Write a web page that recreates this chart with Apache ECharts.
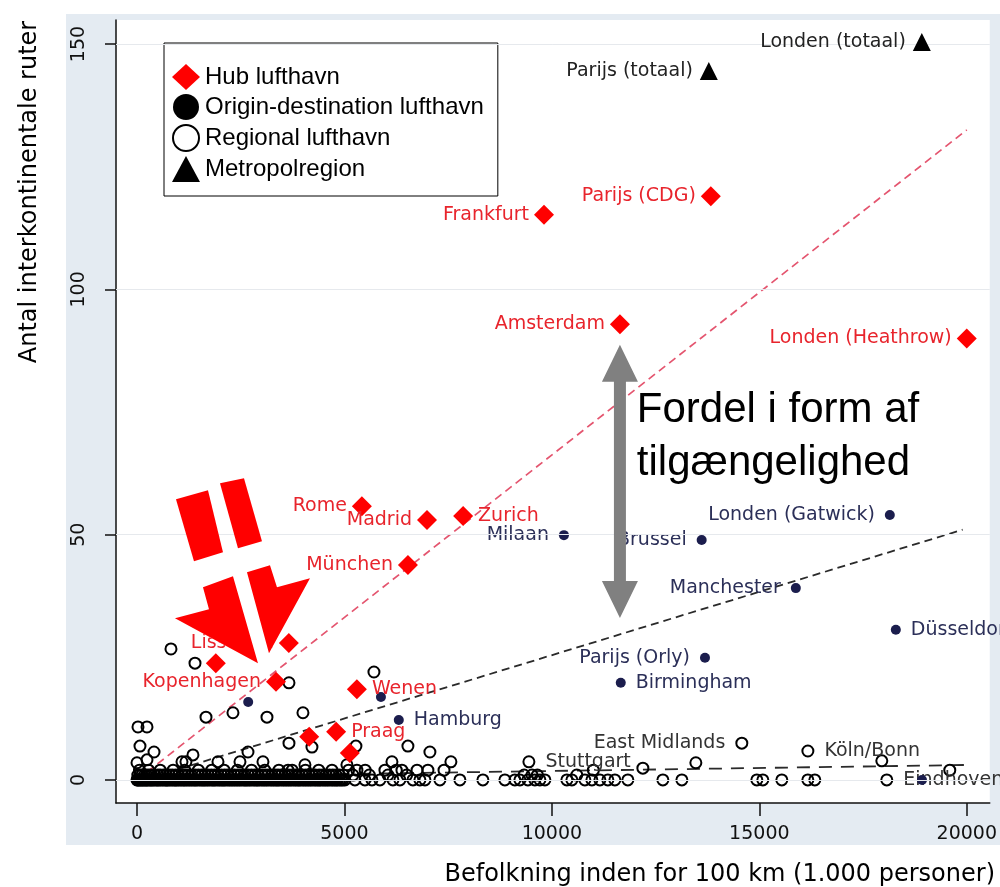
<!DOCTYPE html>
<html><head><meta charset="utf-8">
<script src="https://cdn.jsdelivr.net/npm/echarts@6/dist/echarts.min.js"></script>
<style>html,body{margin:0;padding:0;background:#fff}#c{width:1000px;height:887px}</style>
</head><body><div id="c"></div>
<script>
// ---------------- data ----------------
const xTicks = [0, 5000, 10000, 15000, 20000];
const yTicks = [0, 50, 100, 150];

const hubNames = ['Londen (Heathrow)','Parijs (CDG)','Frankfurt','Amsterdam','Rome','Madrid','Zurich','München','Lissabon','Kopenhagen','Wenen','Praag','','',''];
const hubX = [20000, 13830, 9810, 11640, 5420, 6990, 7860, 6530, 3660, 3350, 5300, 4800, 1900, 4150, 5130];
const hubY = [90, 119, 115.2, 92.9, 55.8, 53.0, 53.8, 43.8, 27.9, 20.0, 18.5, 9.8, 23.8, 8.8, 5.5];

const odNames = ['Londen (Gatwick)','Milaan','Brussel','Manchester','Düsseldorf','Parijs (Orly)','Birmingham','Hamburg','','',''];
const odX = [18145, 10290, 13610, 15880, 18290, 13690, 11660, 6310, 5880, 2680, 18920];
const odY = [54.0, 49.9, 48.9, 39.1, 30.6, 24.9, 19.8, 12.2, 16.9, 15.9, 0];

const regNames = ['Stuttgart','East Midlands','Köln/Bonn','Eindhoven'];
const regX = [9446, 14578, 16170, 18072,
  819, 1398, 3663, 1663, 2313, 3133, 4000, 5711, 24, 241, 72, 410, 1349, 1084, 1180, 1952, 2482, 2675, 3036, 3663, 4217, 4048, 5277, 5060, 5301, 6530, 7060, 6145, 6386, 7012, 7566, 12193, 13470, 17952, 19590, 3640, 5976, 0, 241,
  0, 40, 95, 150, 210, 260, 330, 390, 470, 530, 610, 690, 740, 820, 900, 960, 1040, 1120, 1190, 1270, 1350, 1420, 1510, 1590, 1660, 1740, 1830, 1900, 1990, 2070, 2140, 2230, 2310, 2390, 2470, 2560, 2630, 2710, 2800, 2880, 2950, 3040, 3120, 3210, 3290, 3370, 3440, 3530, 3610, 3690, 3780, 3860, 3930, 4020, 4100, 4180, 4270, 4350, 4420, 4510, 4590, 4680, 4760, 4830, 4920, 5010,
  15, 70, 125, 180, 235, 300, 360, 430, 500, 570, 650, 715, 780, 860, 930, 1000, 1080, 1150, 1230, 1310, 1390, 1460, 1550, 1620, 1700, 1790, 1860, 1950, 2030, 2100, 2190, 2270, 2350, 2430, 2510, 2600, 2670, 2750, 2840, 2910, 3000, 3080, 3160, 3250, 3330, 3400, 3490, 3570, 3650, 3730, 3820, 3900, 3980, 4060, 4140, 4220, 4310, 4390, 4470, 4550, 4630, 4720, 4800, 4880, 4960,
  5253, 5494, 5663, 5855, 6169, 6337, 6651, 6819, 6940, 7301, 7783, 8337, 8867, 9108, 9229, 9422, 9590, 9711, 9831, 10361, 10482, 10795, 10964, 11157, 11349, 11518, 11831, 12675, 13133, 14940, 15084, 15542, 16169, 16337,
  20, 120, 230, 350, 500, 640, 780, 930, 1090, 1230, 1400, 1560, 1710, 1870, 2030, 2180, 2350, 2500, 2680, 2840, 3010, 3160, 3330, 3480, 3650, 3820, 3990, 4150, 4300, 4470, 4640, 4800, 4970, 5205, 5600, 6050, 6500, 9330, 9520, 9650, 10600,
  70, 180, 290, 420, 560, 700, 850, 1000, 1160, 1310, 1480, 1640, 1790, 1950, 2110, 2270, 2430, 2590, 2760, 2920, 3090, 3250, 3400, 3570, 3730, 3900, 4070, 4230, 4390, 4550, 4720, 4880,
  60, 280, 560, 870, 1150, 1480, 1800, 2100, 2420, 2760, 3080, 3420, 3740, 4060, 4380, 4700, 5100, 5500, 6250, 6750, 7400, 11000];
const regY = [3.7, 7.5, 5.9, 0,
  26.7, 23.8, 19.8, 12.8, 13.7, 12.8, 13.7, 22.0, 10.8, 10.8, 6.9, 5.7, 5.1, 3.7, 3.7, 3.7, 3.7, 5.7, 3.7, 7.5, 6.7, 3.1, 6.9, 3.1, 2.0, 6.9, 5.7, 3.7, 2.0, 2.0, 3.7, 2.4, 3.5, 3.9, 2.0, 2.0, 2.0, 3.5, 4.1,
  0,0,0,0,0,0,0,0,0,0,0,0,0,0,0,0,0,0,0,0,0,0,0,0,0,0,0,0,0,0,0,0,0,0,0,0,0,0,0,0,0,0,0,0,0,0,0,0,0,0,0,0,0,0,0,0,0,0,0,0,0,0,0,0,0,0,
  0,0,0,0,0,0,0,0,0,0,0,0,0,0,0,0,0,0,0,0,0,0,0,0,0,0,0,0,0,0,0,0,0,0,0,0,0,0,0,0,0,0,0,0,0,0,0,0,0,0,0,0,0,0,0,0,0,0,0,0,0,0,0,0,0,
  0,0,0,0,0,0,0,0,0,0,0,0,0,0,0,0,0,0,0,0,0,0,0,0,0,0,0,0,0,0,0,0,0,0,
  1,1,1,1,1,1,1,1,1,1,1,1,1,1,1,1,1,1,1,1,1,1,1,1,1,1,1,1,1,1,1,1,1,1,1,1,1,1,1,1,1,
  1,1,1,1,1,1,1,1,1,1,1,1,1,1,1,1,1,1,1,1,1,1,1,1,1,1,1,1,1,1,1,1,
  2,2,2,2,2,2,2,2,2,2,2,2,2,2,2,2,2,2,2,2,2,2];

const metroNames = ['Londen (totaal)','Parijs (totaal)'];
const metroX = [18916, 13783];
const metroY = [150.4, 144.5];

const fitHubX = [0, 20000], fitHubY = [0, 132.5];
const fitOdX = [1000, 19900], fitOdY = [2.2, 51];
const fitRegX = [0, 20000], fitRegY = [0.6, 3.05];

// annotation anchors (data coordinates)
const grayArrowX = 11640, grayArrowTop = 88.7, grayArrowBottom = 33.0;
const noteAnchor = [12048, 69.9];
const redArrowTip = [2916, 23.8];

// ---------------- chart ----------------
const chart = echarts.init(document.getElementById('c'), null, {renderer: 'canvas'});
const LBL = 'DejaVu Sans';
const rightSide = ['Zurich','Wenen','Praag','Düsseldorf','Birmingham','Hamburg','Stuttgart','Köln/Bonn','Eindhoven'];
function pts(names, xs, ys) {
  return xs.map((x, i) => {
    const n = names[i] || '';
    return {name: n, value: [x, ys[i]], label: {position: rightSide.includes(n) ? 'right' : 'left'}};
  });
}
function line(xs, ys) { return xs.map((x, i) => [x, ys[i]]); }
const plain = v => String(v);

const option = {
  animation: false,
  backgroundColor: '#fff',
  grid: {left: 116, right: 10, top: 20, bottom: 84, show: true, backgroundColor: '#fff', borderWidth: 0},
  xAxis: {
    type: 'value', min: -506, max: 20554,
    axisLine: {show: true, onZero: false, lineStyle: {color: '#111', width: 1.5}},
    axisTick: {show: true, length: 13, customValues: xTicks, lineStyle: {color: '#111', width: 1.5}},
    axisLabel: {customValues: xTicks, formatter: plain, margin: 22, fontFamily: LBL, fontSize: 19, color: '#111'},
    splitLine: {show: false}
  },
  yAxis: {
    type: 'value', min: -4.7, max: 154.9,
    axisLine: {show: true, onZero: false, lineStyle: {color: '#111', width: 1.5}},
    axisTick: {show: true, length: 11, customValues: yTicks, lineStyle: {color: '#111', width: 1.5}},
    axisLabel: {customValues: yTicks, formatter: plain, rotate: 90, margin: 27, fontFamily: LBL, fontSize: 19, color: '#111'},
    splitLine: {show: false}
  },
  legend: {
    left: 164, top: 43, orient: 'vertical', selectedMode: false,
    backgroundColor: '#fff', borderColor: '#000', borderWidth: 1,
    padding: [21, 14, 14, 8], itemGap: 4, itemWidth: 28, itemHeight: 26,
    textStyle: {fontFamily: 'Liberation Sans', fontSize: 24, color: '#000'},
    data: [
      {name: 'Hub lufthavn'},
      {name: 'Origin-destination lufthavn', itemStyle: {color: '#000'}},
      {name: 'Regional lufthavn', itemStyle: {borderWidth: 2}},
      {name: 'Metropolregion'}
    ]
  },
  series: [
    {type: 'line', name: 'fitHub', data: line(fitHubX, fitHubY), symbol: 'none', silent: true, z: 2,
     lineStyle: {color: '#e4556f', width: 1.7, type: [8, 5]}},
    {type: 'line', name: 'fitOd', data: line(fitOdX, fitOdY), symbol: 'none', silent: true, z: 2,
     lineStyle: {color: '#2a2a2a', width: 1.8, type: [8, 5]}},
    {type: 'line', name: 'fitReg', data: line(fitRegX, fitRegY), symbol: 'none', silent: true, z: 2,
     lineStyle: {color: '#2a2a2a', width: 1.8, type: [13, 9]},
     markLine: {silent: true, symbol: ['none', 'none'], label: {show: false},
       lineStyle: {color: '#e6e9ed', type: 'solid', width: 1},
       data: yTicks.map(v => ({yAxis: v}))}},
    {type: 'scatter', name: 'Regional lufthavn', data: pts(regNames, regX, regY), symbol: 'circle', symbolSize: 11, z: 3,
     itemStyle: {color: 'rgba(255,255,255,0)', borderColor: '#000', borderWidth: 2, opacity: 1},
     label: {show: true, formatter: '{b}', distance: 10, color: '#333', fontFamily: LBL, fontSize: 19}},
    {type: 'scatter', name: 'Origin-destination lufthavn', data: pts(odNames, odX, odY), symbol: 'circle', symbolSize: 10, z: 4,
     itemStyle: {color: '#1b1d4d', opacity: 1},
     label: {show: true, formatter: '{b}', distance: 10, color: '#2b2f58', fontFamily: LBL, fontSize: 19}},
    {type: 'scatter', name: 'Hub lufthavn', data: pts(hubNames, hubX, hubY), symbol: 'diamond', symbolSize: 20, z: 5,
     itemStyle: {color: '#ff0000', opacity: 1},
     label: {show: true, formatter: '{b}', distance: 5, color: '#e8242c', fontFamily: LBL, fontSize: 19}},
    {type: 'scatter', name: 'Metropolregion', data: pts(metroNames, metroX, metroY), symbol: 'triangle', symbolSize: 18, z: 5,
     itemStyle: {color: '#000', opacity: 1},
     label: {show: true, formatter: '{b}', distance: 7, color: '#222', fontFamily: LBL, fontSize: 19}}
  ]
};
chart.setOption(option);

const P = (x, y) => chart.convertToPixel({gridIndex: 0}, [x, y]);
const gTop = P(grayArrowX, grayArrowTop), gBot = P(grayArrowX, grayArrowBottom);
const cx = gTop[0], sw = 6, hw = 18, hl = 37;
const grayPts = [[cx, gTop[1]], [cx + hw, gTop[1] + hl], [cx + sw, gTop[1] + hl], [cx + sw, gBot[1] - hl], [cx + hw, gBot[1] - hl],
  [cx, gBot[1]], [cx - hw, gBot[1] - hl], [cx - sw, gBot[1] - hl], [cx - sw, gTop[1] + hl], [cx - hw, gTop[1] + hl]];
const note = P(noteAnchor[0], noteAnchor[1]);
const tip = P(redArrowTip[0], redArrowTip[1]);
const off = arr => arr.map(p => [tip[0] + p[0], tip[1] + p[1]]);
const whiteHull = [[-55, -76], [12, -98], [19, -76], [52, -85], [0, 0], [-83, -45], [-49, -54]];
const redShapes = [
  [[-82, -164], [-50, -173], [-35, -111], [-64, -102]],
  [[-38, -180], [-14, -185], [4, -122], [-20, -115]],
  [[-55, -76], [-25, -87], [0, 0], [-83, -45], [-49, -54]],
  [[-11, -91], [12, -98], [19, -76], [52, -85], [11, -10]]
];

chart.setOption({
  graphic: [
    {type: 'rect', z: -10, silent: true, shape: {x: 66, y: 14, width: 934, height: 831}, style: {fill: '#e4ebf2'}},
    {type: 'text', z: 10, silent: true, x: 995, y: 875,
     style: {text: 'Befolkning inden for 100 km (1.000 personer)', fontFamily: 'DejaVu Sans', fontSize: 24, fill: '#000', align: 'right', verticalAlign: 'middle'}},
    {type: 'text', z: 10, silent: true, x: 30, y: 192, rotation: Math.PI / 2,
     style: {text: 'Antal interkontinentale ruter', fontFamily: 'DejaVu Sans', fontSize: 24, fill: '#000', align: 'center', verticalAlign: 'middle'}},
    {type: 'polygon', z: 20, silent: true, shape: {points: grayPts}, style: {fill: '#808080'}},
    {type: 'polygon', z: 19, silent: true, shape: {points: off(whiteHull)}, style: {fill: '#fff'}},
    ...redShapes.map(s => ({type: 'polygon', z: 20, silent: true, shape: {points: off(s)}, style: {fill: '#ff0000'}})),
    {type: 'text', z: 20, silent: true, x: note[0], y: note[1],
     style: {text: 'Fordel i form af\ntilgængelighed', fontFamily: 'Liberation Sans', fontSize: 42, lineHeight: 53, fill: '#000', align: 'left', verticalAlign: 'middle'}}
  ]
});
</script>
</body></html>
